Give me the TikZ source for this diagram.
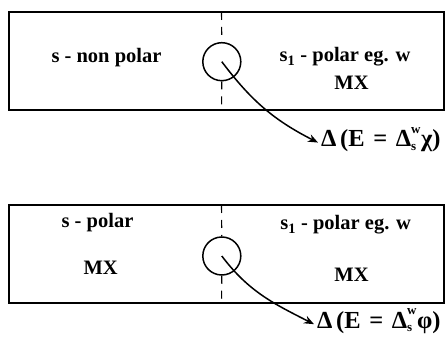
\documentclass[tikz,border=0pt]{standalone}
\usepackage{fontspec}
\setmainfont{Liberation Serif}
\usetikzlibrary{arrows.meta}
\newcommand{\wsub}[2]{\rlap{\raisebox{0.55em}{\fontsize{13}{13}\selectfont #1}}\raisebox{-0.15em}{\fontsize{13}{13}\selectfont #2}}
\begin{document}
\begin{tikzpicture}[x=1pt,y=-1pt,
  box/.style={draw, line width=1.8pt, minimum width=435pt, minimum height=98pt, inner sep=0pt},
  bub/.style={draw, circle, line width=1.5pt, minimum size=38pt, inner sep=0pt},
  divider/.style={line width=1.1pt, dash pattern=on 8pt off 7pt},
  lbl/.style={font=\bfseries\fontsize{20.5}{22}\selectfont, anchor=base, inner sep=0pt},
  eq/.style={font=\bfseries\fontsize{24.5}{26}\selectfont, anchor=base west, inner sep=0pt},
  conn/.style={line width=1.5pt, -{Stealth[length=10pt,width=8pt]}}]
\useasboundingbox (0,0) rectangle (447,352);
% top panel
\node[box] (b1) at (226.25,61) {};
\coordinate (t1) at (221.5,12);
\coordinate (u1) at (221.5,110);
\node[bub] (c1) at (221.8,61.7) {};
\draw[divider] (t1) -- (c1.north);
\draw[divider] (c1.south) -- (u1);
\node[lbl] (n1) at (106.5,63) {s - non polar};
\node[lbl] (p1) at (345,62) {s\textsubscript{1} - polar eg. w};
\node[lbl] (m1) at (351.5,90) {MX};
\node[eq] (e1) at (321,146.7) {Δ\hspace{0.15em}(E\hspace{0.35em}=\hspace{0.35em}Δ\wsub{w}{s}\hspace{0.2em}χ)};
\draw[conn] (c1.center) to[out=-53,in=153] ([xshift=-3pt,yshift=-3pt]e1.west);
% bottom panel
\node[box] (b2) at (226.25,254) {};
\coordinate (t2) at (221.5,205);
\coordinate (u2) at (221.5,303);
\node[bub] (c2) at (221.8,256) {};
\draw[divider] (t2) -- (c2.north);
\draw[divider] (c2.south) -- (u2);
\node[lbl] (n2) at (97.5,228) {s - polar};
\node[lbl] (m2) at (100.7,275) {MX};
\node[lbl] (p2) at (345.7,230) {s\textsubscript{1} - polar eg. w};
\node[lbl] (m3) at (351.5,281.7) {MX};
\node[eq] (e2) at (317,328.3) {Δ\hspace{0.15em}(E\hspace{0.35em}=\hspace{0.35em}Δ\wsub{w}{s}\hspace{0.2em}φ)};
\draw[conn] (c2.center) to[out=-53,in=153] ([xshift=-3pt,yshift=-3pt]e2.west);
\end{tikzpicture}
\end{document}
